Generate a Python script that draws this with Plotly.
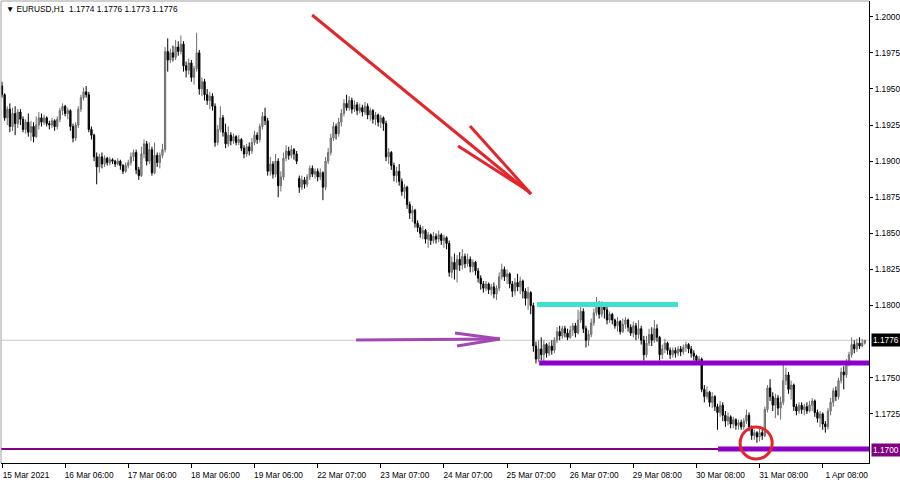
import plotly.graph_objects as go

# ---------------- data (EURUSD H1) ----------------
opens = [
 1.1952,1.1946,1.1930,1.1936,1.1924,1.1933,1.1926,1.1934,1.1929,1.1922,
 1.1927,1.1920,1.1924,1.1917,1.1925,1.1930,1.1927,1.1930,1.1926,1.1925,
 1.1928,1.1924,1.1929,1.1935,1.1938,1.1933,1.1935,1.1924,1.1916,1.1925,
 1.1936,1.1944,1.1948,1.1946,1.1922,1.1918,1.1903,1.1896,1.1903,1.1898,
 1.1902,1.1899,1.1901,1.1900,1.1898,1.1900,1.1897,1.1893,1.1897,1.1899,
 1.1903,1.1906,1.1894,1.1890,1.1905,1.1912,1.1900,1.1908,1.1892,1.1904,
 1.1899,1.1904,1.1908,1.1976,1.1970,1.1975,1.1972,1.1979,1.1976,1.1981,
 1.1966,1.1963,1.1968,1.1958,1.1964,1.1975,1.1950,1.1955,1.1946,1.1942,
 1.1945,1.1938,1.1913,1.1922,1.1930,1.1920,1.1912,1.1918,1.1914,1.1917,
 1.1913,1.1915,1.1909,1.1905,1.1910,1.1907,1.1913,1.1918,1.1915,1.1924,
 1.1931,1.1928,1.1893,1.1898,1.1891,1.1900,1.1883,1.1889,1.1902,1.1907,
 1.1904,1.1908,1.1905,1.1888,1.1882,1.1887,1.1884,1.1889,1.1895,1.1891,
 1.1893,1.1889,1.1892,1.1882,1.1900,1.1906,1.1916,1.1924,1.1919,1.1927,
 1.1933,1.1940,1.1937,1.1942,1.1936,1.1939,1.1935,1.1937,1.1934,1.1938,
 1.1932,1.1935,1.1929,1.1932,1.1927,1.1930,1.1926,1.1903,1.1906,1.1897,
 1.1890,1.1893,1.1886,1.1879,1.1882,1.1870,1.1864,1.1866,1.1857,1.1854,
 1.1850,1.1852,1.1846,1.1849,1.1845,1.1848,1.1846,1.1849,1.1845,1.1847,
 1.1843,1.1823,1.1830,1.1825,1.1832,1.1828,1.1834,1.1829,1.1832,1.1827,
 1.1830,1.1824,1.1819,1.1815,1.1812,1.1815,1.1811,1.1813,1.1808,1.1812,
 1.1820,1.1825,1.1820,1.1822,1.1815,1.1810,1.1816,1.1813,1.1817,1.1810,
 1.1805,1.1809,1.1800,1.1772,1.1763,1.1770,1.1766,1.1773,1.1767,1.1772,
 1.1769,1.1776,1.1782,1.1779,1.1784,1.1781,1.1778,1.1783,1.1786,1.1781,
 1.1790,1.1796,1.1784,1.1776,1.1780,1.1788,1.1795,1.1800,1.1794,1.1800,
 1.1797,1.1790,1.1794,1.1790,1.1786,1.1789,1.1782,1.1787,1.1790,1.1785,
 1.1781,1.1786,1.1780,1.1784,1.1776,1.1766,1.1774,1.1780,1.1776,1.1784,
 1.1778,1.1766,1.1770,1.1774,1.1769,1.1766,1.1769,1.1767,1.1770,1.1768,
 1.1771,1.1773,1.1770,1.1767,1.1765,1.1762,1.1763,1.1742,1.1737,1.1740,
 1.1733,1.1737,1.1730,1.1726,1.1731,1.1724,1.1720,1.1723,1.1718,1.1721,
 1.1717,1.1719,1.1716,1.1720,1.1724,1.1716,1.1710,1.1712,1.1709,1.1712,
 1.1710,1.1728,1.1743,1.1737,1.1731,1.1736,1.1729,1.1733,1.1748,1.1752,
 1.1742,1.1745,1.1730,1.1727,1.1731,1.1728,1.1730,1.1727,1.1731,1.1734,
 1.1726,1.1722,1.1725,1.1718,1.1716,1.1727,1.1733,1.1741,1.1737,1.1748,
 1.1754,1.1752,1.1760,1.1766,1.1773,1.1770,1.1774,1.1772,1.1774,
]
highs = [
 1.1955,1.1947,1.1938,1.1940,1.1937,1.1938,1.1936,1.1936,1.1931,1.1929,
 1.1933,1.1928,1.1927,1.1931,1.1934,1.1933,1.1932,1.1931,1.1928,1.1930,
 1.1929,1.1931,1.1937,1.1940,1.1939,1.1937,1.1936,1.1926,1.1927,1.1938,
 1.1946,1.1951,1.1952,1.1948,1.1924,1.1919,1.1906,1.1905,1.1906,1.1904,
 1.1903,1.1903,1.1902,1.1901,1.1902,1.1901,1.1898,1.1899,1.1901,1.1906,
 1.1908,1.1908,1.1896,1.1910,1.1915,1.1914,1.1913,1.1910,1.1913,1.1906,
 1.1906,1.1912,1.1979,1.1985,1.1978,1.1980,1.1984,1.1983,1.1987,1.1983,
 1.1969,1.1971,1.1970,1.1966,1.1989,1.1977,1.1958,1.1957,1.1950,1.1948,
 1.1947,1.1940,1.1925,1.1938,1.1932,1.1926,1.1924,1.1920,1.1919,1.1918,
 1.1918,1.1916,1.1911,1.1912,1.1913,1.1916,1.1921,1.1920,1.1926,1.1934,
 1.1937,1.1930,1.1903,1.1900,1.1905,1.1902,1.1893,1.1906,1.1911,1.1910,
 1.1911,1.1909,1.1907,1.1890,1.1890,1.1889,1.1891,1.1897,1.1897,1.1895,
 1.1895,1.1895,1.1893,1.1903,1.1909,1.1919,1.1927,1.1926,1.1930,1.1936,
 1.1943,1.1946,1.1945,1.1944,1.1942,1.1941,1.1940,1.1939,1.1941,1.1940,
 1.1937,1.1936,1.1934,1.1933,1.1932,1.1931,1.1928,1.1909,1.1907,1.1899,
 1.1896,1.1898,1.1888,1.1884,1.1883,1.1872,1.1869,1.1867,1.1859,1.1856,
 1.1855,1.1853,1.1851,1.1850,1.1851,1.1850,1.1852,1.1850,1.1849,1.1848,
 1.1845,1.1834,1.1836,1.1835,1.1837,1.1839,1.1836,1.1836,1.1834,1.1832,
 1.1831,1.1826,1.1821,1.1817,1.1817,1.1816,1.1815,1.1816,1.1814,1.1823,
 1.1829,1.1827,1.1825,1.1823,1.1817,1.1819,1.1822,1.1820,1.1818,1.1812,
 1.1813,1.1810,1.1802,1.1775,1.1776,1.1778,1.1776,1.1774,1.1775,1.1776,
 1.1778,1.1785,1.1786,1.1786,1.1786,1.1784,1.1786,1.1788,1.1788,1.1797,
 1.1800,1.1798,1.1786,1.1783,1.1791,1.1798,1.1806,1.1803,1.1803,1.1802,
 1.1800,1.1796,1.1795,1.1791,1.1792,1.1790,1.1791,1.1792,1.1791,1.1787,
 1.1789,1.1788,1.1790,1.1786,1.1779,1.1779,1.1784,1.1785,1.1790,1.1787,
 1.1779,1.1773,1.1777,1.1775,1.1771,1.1771,1.1771,1.1772,1.1772,1.1773,
 1.1775,1.1774,1.1772,1.1769,1.1766,1.1765,1.1764,1.1745,1.1744,1.1741,
 1.1740,1.1738,1.1732,1.1734,1.1733,1.1727,1.1726,1.1724,1.1723,1.1722,
 1.1721,1.1721,1.1722,1.1728,1.1726,1.1717,1.1714,1.1713,1.1716,1.1714,
 1.1730,1.1745,1.1749,1.1740,1.1739,1.1738,1.1737,1.1759,1.1757,1.1754,
 1.1748,1.1746,1.1732,1.1733,1.1733,1.1732,1.1733,1.1734,1.1736,1.1735,
 1.1728,1.1727,1.1726,1.1720,1.1729,1.1736,1.1743,1.1744,1.1750,1.1757,
 1.1758,1.1763,1.1768,1.1778,1.1776,1.1777,1.1778,1.1777,1.1776,
]
lows = [
 1.1944,1.1928,1.1925,1.1920,1.1921,1.1918,1.1923,1.1925,1.1920,1.1919,
 1.1917,1.1914,1.1913,1.1916,1.1922,1.1924,1.1925,1.1924,1.1922,1.1923,
 1.1921,1.1922,1.1927,1.1932,1.1931,1.1929,1.1921,1.1913,1.1914,1.1923,
 1.1934,1.1942,1.1944,1.1920,1.1915,1.1900,1.1884,1.1892,1.1895,1.1896,
 1.1897,1.1897,1.1898,1.1896,1.1897,1.1894,1.1891,1.1892,1.1895,1.1897,
 1.1900,1.1891,1.1887,1.1889,1.1902,1.1897,1.1898,1.1890,1.1891,1.1896,
 1.1895,1.1902,1.1906,1.1962,1.1968,1.1969,1.1970,1.1973,1.1974,1.1962,
 1.1958,1.1960,1.1955,1.1953,1.1962,1.1946,1.1945,1.1942,1.1939,1.1936,
 1.1935,1.1910,1.1911,1.1920,1.1917,1.1909,1.1910,1.1911,1.1912,1.1911,
 1.1911,1.1907,1.1902,1.1903,1.1904,1.1905,1.1911,1.1912,1.1913,1.1922,
 1.1925,1.1890,1.1890,1.1888,1.1889,1.1875,1.1879,1.1887,1.1900,1.1901,
 1.1902,1.1901,1.1898,1.1878,1.1880,1.1881,1.1882,1.1887,1.1889,1.1888,
 1.1886,1.1887,1.1873,1.1880,1.1898,1.1904,1.1914,1.1915,1.1917,1.1924,
 1.1931,1.1935,1.1935,1.1933,1.1934,1.1932,1.1933,1.1931,1.1932,1.1929,
 1.1928,1.1926,1.1925,1.1924,1.1923,1.1921,1.1900,1.1898,1.1894,1.1886,
 1.1885,1.1883,1.1876,1.1874,1.1867,1.1860,1.1858,1.1854,1.1851,1.1847,
 1.1846,1.1843,1.1840,1.1842,1.1843,1.1843,1.1844,1.1842,1.1840,1.1839,
 1.1820,1.1819,1.1818,1.1816,1.1824,1.1825,1.1826,1.1827,1.1823,1.1823,
 1.1821,1.1816,1.1811,1.1809,1.1810,1.1808,1.1807,1.1805,1.1804,1.1810,
 1.1818,1.1817,1.1815,1.1812,1.1806,1.1807,1.1810,1.1808,1.1805,1.1800,
 1.1797,1.1794,1.1768,1.1760,1.1761,1.1762,1.1760,1.1764,1.1765,1.1766,
 1.1767,1.1774,1.1776,1.1777,1.1778,1.1776,1.1777,1.1779,1.1778,1.1780,
 1.1788,1.1781,1.1771,1.1772,1.1778,1.1786,1.1793,1.1791,1.1792,1.1791,
 1.1787,1.1788,1.1787,1.1784,1.1782,1.1780,1.1781,1.1784,1.1782,1.1779,
 1.1778,1.1776,1.1777,1.1773,1.1762,1.1764,1.1772,1.1772,1.1774,1.1775,
 1.1762,1.1763,1.1767,1.1766,1.1763,1.1764,1.1764,1.1765,1.1765,1.1766,
 1.1768,1.1767,1.1764,1.1762,1.1760,1.1759,1.1740,1.1733,1.1735,1.1730,
 1.1729,1.1727,1.1714,1.1723,1.1720,1.1716,1.1717,1.1715,1.1715,1.1714,
 1.1714,1.1714,1.1714,1.1718,1.1713,1.1707,1.1707,1.1705,1.1706,1.1707,
 1.1709,1.1726,1.1734,1.1727,1.1722,1.1724,1.1721,1.1731,1.1745,1.1739,
 1.1735,1.1727,1.1724,1.1725,1.1725,1.1724,1.1725,1.1726,1.1727,1.1723,
 1.1719,1.1716,1.1714,1.1712,1.1714,1.1724,1.1730,1.1734,1.1735,1.1746,
 1.1742,1.1750,1.1758,1.1764,1.1767,1.1768,1.1770,1.1771,1.1773,
]
closes = [
 1.1946,1.1930,1.1936,1.1924,1.1933,1.1926,1.1934,1.1929,1.1922,1.1927,
 1.1920,1.1924,1.1917,1.1925,1.1930,1.1927,1.1930,1.1926,1.1925,1.1928,
 1.1924,1.1929,1.1935,1.1938,1.1933,1.1935,1.1924,1.1916,1.1925,1.1936,
 1.1944,1.1948,1.1946,1.1922,1.1918,1.1903,1.1896,1.1903,1.1898,1.1902,
 1.1899,1.1901,1.1900,1.1898,1.1900,1.1897,1.1893,1.1897,1.1899,1.1903,
 1.1906,1.1894,1.1890,1.1905,1.1912,1.1900,1.1908,1.1892,1.1904,1.1899,
 1.1904,1.1908,1.1976,1.1970,1.1975,1.1972,1.1979,1.1976,1.1981,1.1966,
 1.1963,1.1968,1.1958,1.1964,1.1975,1.1950,1.1955,1.1946,1.1942,1.1945,
 1.1938,1.1913,1.1922,1.1930,1.1920,1.1912,1.1918,1.1914,1.1917,1.1913,
 1.1915,1.1909,1.1905,1.1910,1.1907,1.1913,1.1918,1.1915,1.1924,1.1931,
 1.1928,1.1893,1.1898,1.1891,1.1900,1.1883,1.1889,1.1902,1.1907,1.1904,
 1.1908,1.1905,1.1900,1.1882,1.1887,1.1884,1.1889,1.1895,1.1891,1.1893,
 1.1889,1.1892,1.1882,1.1900,1.1906,1.1916,1.1924,1.1919,1.1927,1.1933,
 1.1940,1.1937,1.1942,1.1936,1.1939,1.1935,1.1937,1.1934,1.1938,1.1932,
 1.1935,1.1929,1.1932,1.1927,1.1930,1.1926,1.1903,1.1906,1.1897,1.1890,
 1.1893,1.1886,1.1879,1.1882,1.1870,1.1864,1.1866,1.1857,1.1854,1.1850,
 1.1852,1.1846,1.1849,1.1845,1.1848,1.1846,1.1849,1.1845,1.1847,1.1843,
 1.1823,1.1830,1.1825,1.1832,1.1828,1.1834,1.1829,1.1832,1.1827,1.1830,
 1.1824,1.1819,1.1815,1.1812,1.1815,1.1811,1.1813,1.1808,1.1812,1.1820,
 1.1825,1.1820,1.1822,1.1815,1.1810,1.1816,1.1813,1.1817,1.1810,1.1805,
 1.1809,1.1800,1.1772,1.1763,1.1770,1.1766,1.1773,1.1767,1.1772,1.1769,
 1.1776,1.1782,1.1779,1.1784,1.1781,1.1778,1.1783,1.1786,1.1781,1.1790,
 1.1796,1.1784,1.1776,1.1780,1.1788,1.1795,1.1800,1.1794,1.1800,1.1797,
 1.1790,1.1794,1.1790,1.1786,1.1789,1.1782,1.1787,1.1790,1.1785,1.1781,
 1.1786,1.1780,1.1784,1.1776,1.1766,1.1774,1.1780,1.1776,1.1784,1.1778,
 1.1766,1.1770,1.1774,1.1769,1.1766,1.1769,1.1767,1.1770,1.1768,1.1771,
 1.1773,1.1770,1.1767,1.1765,1.1762,1.1763,1.1742,1.1737,1.1740,1.1733,
 1.1737,1.1730,1.1726,1.1731,1.1724,1.1720,1.1723,1.1718,1.1721,1.1717,
 1.1719,1.1716,1.1720,1.1724,1.1716,1.1710,1.1712,1.1709,1.1712,1.1710,
 1.1728,1.1743,1.1737,1.1731,1.1736,1.1729,1.1733,1.1748,1.1752,1.1742,
 1.1745,1.1730,1.1727,1.1731,1.1728,1.1730,1.1727,1.1731,1.1734,1.1726,
 1.1722,1.1725,1.1718,1.1716,1.1727,1.1733,1.1741,1.1737,1.1748,1.1754,
 1.1752,1.1760,1.1766,1.1773,1.1770,1.1774,1.1772,1.1774,1.1776,
]

time_labels = ["15 Mar 2021", "16 Mar 06:00", "17 Mar 06:00", "18 Mar 06:00",
               "19 Mar 06:00", "22 Mar 07:00", "23 Mar 07:00", "24 Mar 07:00",
               "25 Mar 07:00", "26 Mar 07:00", "29 Mar 08:00", "30 Mar 08:00",
               "31 Mar 08:00", "1 Apr 08:00"]
bars_per_label = 24
price_ticks = [1.2000, 1.1975, 1.1950, 1.1925, 1.1900, 1.1875, 1.1850,
               1.1825, 1.1800, 1.1750, 1.1725]
symbol_title = "EURUSD,H1"
last_ohlc = ["1.1774", "1.1776", "1.1773", "1.1776"]
bid_price = 1.1776
support_price = 1.1700
resistance_top = 1.18008
resistance_mid = 1.17602

# ---------------- figure ----------------
bars = list(range(len(closes)))
X_MIN, X_MAX = -0.38, 329.6
Y_MIN, Y_MAX = 1.16910, 1.20109
FONT = "Liberation Sans"
FS = 8.3

RED = "#e3262b"
ARROW_PURPLE = "#a347b5"
VIOLET = "#8c00c8"
CYAN = "#40e0d0"

fig = go.Figure()
fig.add_trace(go.Candlestick(
    x=bars, open=opens, high=highs, low=lows, close=closes,
    increasing=dict(line=dict(color="#6e6e6e", width=1), fillcolor="#9a9a9a"),
    decreasing=dict(line=dict(color="#000000", width=1), fillcolor="#000000"),
    whiskerwidth=0, hoverinfo="skip", showlegend=False,
))

shapes = []
# bid line
shapes.append(dict(type="line", xref="x", yref="y", x0=X_MIN, x1=X_MAX,
                   y0=bid_price, y1=bid_price, layer="below",
                   line=dict(color="#c8c8c8", width=1)))
# red arrow
for (xa, ya, xb, yb) in [(117.9, 1.20012, 201.1, 1.18773),
                         (177.9, 1.19244, 201.1, 1.18773),
                         (173.4, 1.19105, 200.4, 1.18790)]:
    shapes.append(dict(type="line", xref="x", yref="y", x0=xa, y0=ya, x1=xb, y1=yb,
                       line=dict(color=RED, width=3)))
# purple arrow
for (xa, ya, xb, yb) in [(134.6, 1.17762, 189.3, 1.17769),
                         (172.2, 1.17810, 189.3, 1.17769),
                         (173.0, 1.17720, 189.3, 1.17769)]:
    shapes.append(dict(type="line", xref="x", yref="y", x0=xa, y0=ya, x1=xb, y1=yb,
                       line=dict(color=ARROW_PURPLE, width=3)))
# cyan resistance
shapes.append(dict(type="line", xref="x", yref="y", x0=203.4, x1=257.0,
                   y0=resistance_top, y1=resistance_top, line=dict(color=CYAN, width=5)))
# violet level
shapes.append(dict(type="line", xref="x", yref="y", x0=204.2, x1=X_MAX,
                   y0=resistance_mid, y1=resistance_mid, line=dict(color=VIOLET, width=5)))
# 1.1700 support: thin then thick
shapes.append(dict(type="line", xref="x", yref="y", x0=X_MIN, x1=272.2,
                   y0=1.17007, y1=1.17007, line=dict(color="#800080", width=2)))
shapes.append(dict(type="line", xref="x", yref="y", x0=272.2, x1=X_MAX,
                   y0=1.17007, y1=1.17007, line=dict(color=VIOLET, width=5)))
# red circle
shapes.append(dict(type="circle", xref="x", yref="y", x0=280.6, x1=292.8,
                   y0=1.16937, y1=1.17159, line=dict(color=RED, width=3)))
# grey frame left/top
shapes.append(dict(type="line", xref="paper", yref="paper", x0=0, x1=0, y0=0, y1=1,
                   line=dict(color="#a0a0a0", width=1)))
shapes.append(dict(type="line", xref="paper", yref="paper", x0=0, x1=1, y0=1, y1=1,
                   line=dict(color="#a0a0a0", width=1)))

annotations = [
    dict(xref="paper", yref="paper", x=0, y=1, xanchor="left", yanchor="top",
         xshift=3, yshift=-1, showarrow=False,
         text="\u25bc " + symbol_title + "\u00a0\u00a0" + " ".join(last_ohlc),
         font=dict(family=FONT, size=FS, color="#000000")),
    dict(xref="paper", yref="y", x=1, y=bid_price, xanchor="left", yanchor="middle",
         xshift=2, showarrow=False, text=f"{bid_price:.4f}", bgcolor="#000000",
         borderpad=1, font=dict(family=FONT, size=FS, color="#ffffff")),
    dict(xref="paper", yref="y", x=1, y=support_price, xanchor="left", yanchor="middle",
         xshift=2, showarrow=False, text=f"{support_price:.4f}", bgcolor="#800080",
         borderpad=1, font=dict(family=FONT, size=FS, color="#ffffff")),
]

fig.update_layout(
    width=900, height=480,
    margin=dict(l=1, r=31, t=1, b=17, autoexpand=False),
    paper_bgcolor="#ffffff", plot_bgcolor="#ffffff",
    showlegend=False, hovermode=False,
    shapes=shapes, annotations=annotations,
    font=dict(family=FONT, size=FS, color="#000000"),
    xaxis=dict(
        range=[X_MIN, X_MAX], rangeslider=dict(visible=False),
        showgrid=False, zeroline=False,
        showline=True, linecolor="#000000", linewidth=1,
        ticks="outside", ticklen=4, tickcolor="#000000", tickwidth=1,
        tickvals=[i * bars_per_label for i in range(len(time_labels))],
        ticktext=time_labels, ticklabelshift=24,
        tickfont=dict(family=FONT, size=FS, color="#000000"),
    ),
    yaxis=dict(
        range=[Y_MIN, Y_MAX], side="right",
        showgrid=False, zeroline=False,
        showline=True, linecolor="#000000", linewidth=1,
        ticks="outside", ticklen=3, tickcolor="#000000", tickwidth=1,
        tickvals=price_ticks, ticktext=[f"{p:.4f}" for p in price_ticks],
        tickfont=dict(family=FONT, size=FS, color="#000000"),
    ),
)

fig.write_html(
    "out.html",
    config={"displayModeBar": False, "staticPlot": True},
    post_script="document.body.style.margin='0';document.body.style.padding='0';",
)
